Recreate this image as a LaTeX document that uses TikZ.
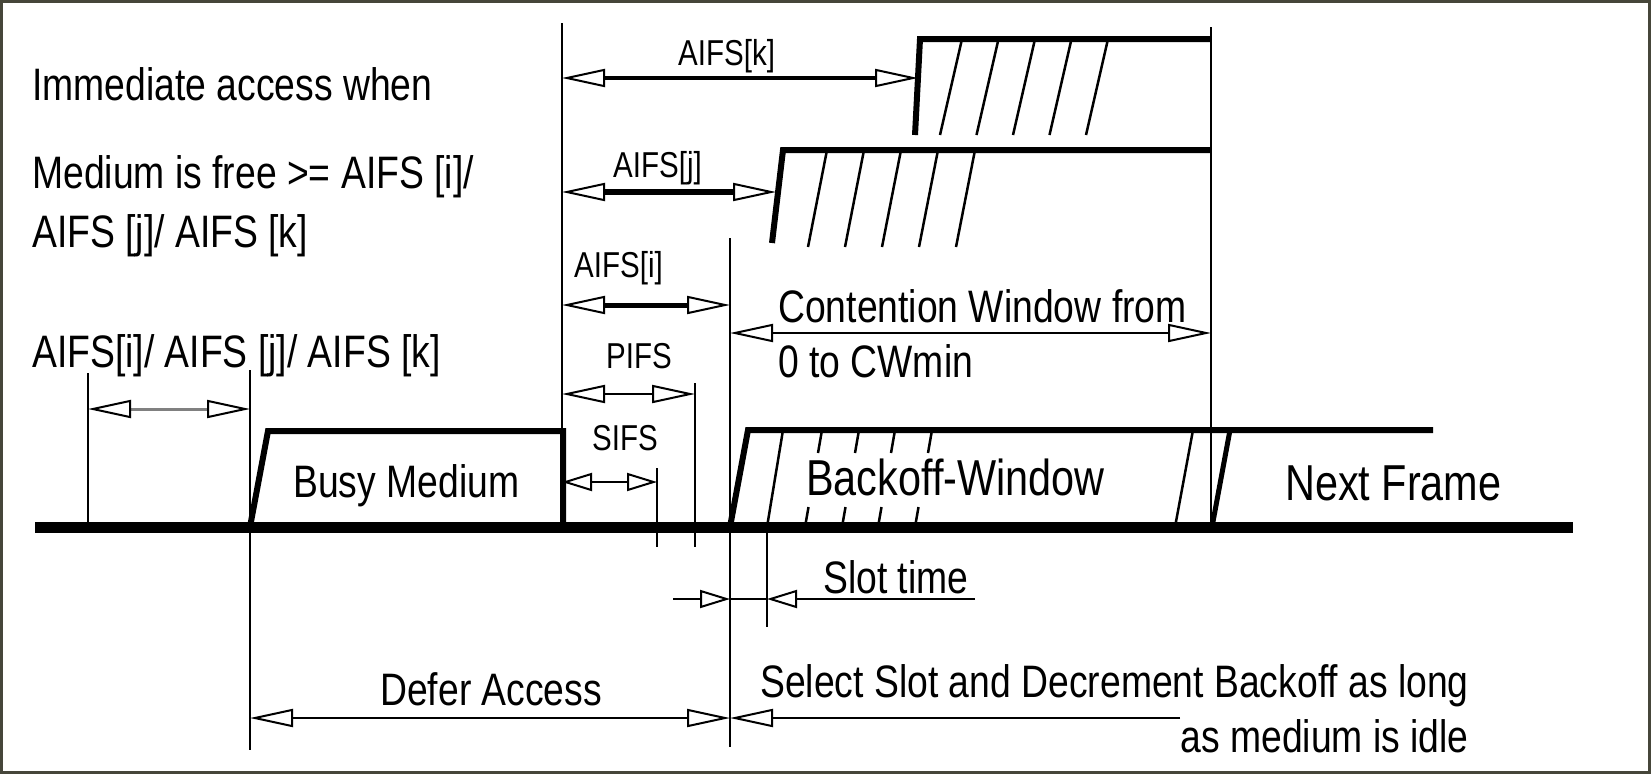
\documentclass[tikz,border=0pt]{standalone}
\usepackage{fontspec}
\setmainfont{Liberation Sans}[FakeStretch=0.82]
\usetikzlibrary{arrows.meta}
\definecolor{framecol}{RGB}{70,70,58}
\begin{document}
\begin{tikzpicture}[x=1pt,y=-1pt,
  lbl/.style={inner sep=0pt, anchor=base west, font=\fontsize{45.5}{50}\selectfont},
  sml/.style={inner sep=0pt, anchor=base west, font=\fontsize{36}{40}\selectfont},
  big/.style={inner sep=0pt, anchor=base west, font=\fontsize{50.5}{55}\selectfont},
  refline/.style={line width=2.5pt},
  signal/.style={line width=6pt, line join=miter},
  hatchline/.style={line width=2.5pt},
  tipL/.tip={Triangle[length=43pt,width=18pt,fill=white,color=black,line width=2pt]},
  tipS/.tip={Triangle[length=30pt,width=18pt,fill=white,color=black,line width=2pt]},
 ]
\useasboundingbox (0,0) rectangle (1651,774);
\fill[white] (0,0) rectangle (1651,774);
\draw[framecol, line width=3pt] (1.5,1.5) rectangle (1649.5,772.5);

% reference verticals
\draw[refline] (88,373) -- (88,527);
\draw[refline] (250,370) -- (250,750);
\draw[refline] (562,23) -- (562,527);
\draw[refline] (657,468) -- (657,547);
\draw[refline] (695,383) -- (695,547);
\draw[refline] (730,238) -- (730,747);
\draw[refline] (767,527) -- (767,627);
\draw[refline] (1211,27) -- (1211,527);

% main time axis
\draw[line width=11pt] (35,527) -- (1573,527);

% busy medium
\draw[signal] (250,527) -- (268,431) -- (563,431) -- (563,527);

% AIFS[k] level
\draw[signal] (915,135) -- (920,39) -- (1211,39);
\foreach \t in {962,998.5,1035,1071.5,1108}
  \draw[hatchline] (\t,39) -- ({\t-22},135);

% AIFS[j] level
\draw[signal] (772,243) -- (783,150) -- (1211,150);
\foreach \t in {827,864,901,938,975}
  \draw[hatchline] (\t,150) -- ({\t-19},247);

% backoff window
\draw[signal] (730,527) -- (748,430) -- (1433,430);
\draw[hatchline] (767,527) -- (783,430);
\foreach \b in {805,842,878,915}{
  \draw[hatchline] (\b,527) -- ({\b+3.5},507);
  \draw[hatchline] ({\b+13},453) -- ({\b+17},430);
}
\draw[hatchline] (1175,527) -- (1193,430);
\draw[line width=5pt] (1212,527) -- (1230,430);

% dimension arrows
\draw[gray, line width=3pt, tipL-tipL] (88,409) -- (250,409);
\draw[line width=3.5pt, tipL-tipL] (562,78) -- (918,78);
\draw[line width=6pt, tipL-tipL] (562,192) -- (776,192);
\draw[line width=5pt, tipL-tipL] (562,305) -- (730,305);
\draw[line width=2pt, tipL-tipL] (730,333) -- (1211,333);
\draw[line width=2.5pt, tipL-tipL] (562,394) -- (695,394);
\draw[line width=2.5pt, tipS-tipS] (562,482) -- (657,482);
\draw[line width=2pt, -tipS] (673,599) -- (730,599);
\draw[line width=2pt] (730,599) -- (767,599);
\draw[line width=2pt, -tipS] (975,599) -- (767,599);
\draw[line width=2.5pt, tipL-tipL] (250,718) -- (730,718);
\draw[line width=2.5pt, -tipL] (1180,718) -- (730,718);

% texts
\node[lbl] (t1) at (32,100) {Immediate access when};
\node[lbl] (t2) at (32,188) {Medium is free >= AIFS [i]/};
\node[lbl] (t3) at (32,247) {AIFS [j]/ AIFS [k]};
\node[lbl] (t4) at (32,367) {AIFS[i]/ AIFS [j]/ AIFS [k]};
\node[sml] (tk) at (678,65) {AIFS[k]};
\node[sml] (tj) at (613,177) {AIFS[j]};
\node[sml] (ti) at (574,277) {AIFS[i]};
\node[lbl] (cw1) at (778,322) {Contention Window from};
\node[lbl] (cw2) at (778,377) {0 to CWmin};
\node[sml] (pifs) at (606,368) {PIFS};
\node[sml] (sifs) at (592,450) {SIFS};
\node[lbl] (busy) at (293,497) {Busy Medium};
\node[big] (bw) at (806,495) {Backoff-Window};
\node[big] (nf) at (1285,500) {Next Frame};
\node[lbl] (slot) at (823,593) {Slot time};
\node[lbl] (defer) at (380,705) {Defer Access};
\node[lbl] (sel1) at (760,697) {Select Slot and Decrement Backoff as long};
\node[lbl, anchor=base east] (sel2) at (1469,752) {as medium is idle};
\end{tikzpicture}
\end{document}
